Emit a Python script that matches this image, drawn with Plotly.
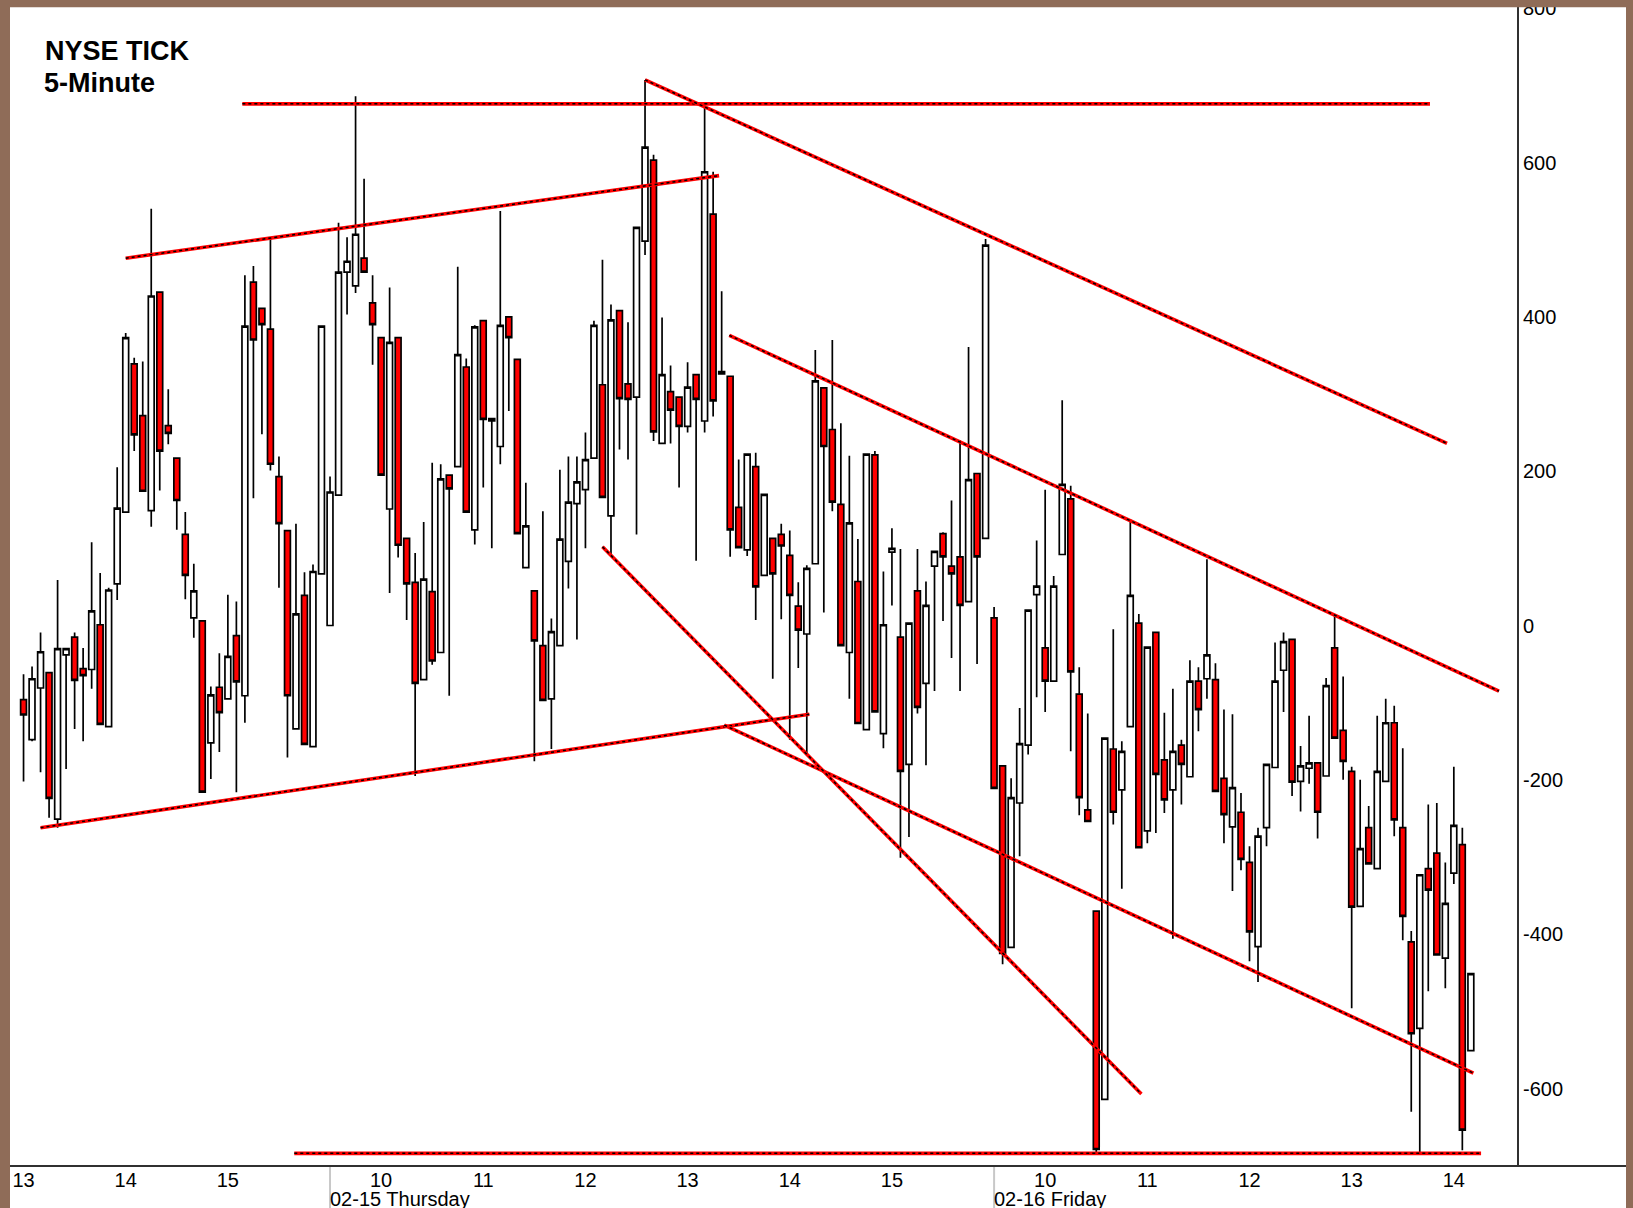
import plotly.graph_objects as go

# ---------------- data (5-minute NYSE TICK bars) ----------------
# Day 1 (02-14, 13:00-16:00), Day 2 (02-15, 9:30-16:00), Day 3 (02-16, 9:30-14:15)
d1_open  = [-96, -148, -81, -61, -251, -38, -15, -56, -57, 1, -131, 54, 147, 339, 272, 149, 432, 259,
            217, 118, 10, 6, -152, -80, -95, -13, -91, 445, 411, 384, 193, 123, -134, 39, -157, 67]
d1_high  = [-63, -53, -9, -61, 59, -30, -9, -29, 108, 68, 49, 205, 379, 347, 342, 540, 432, 306,
            217, 147, 80, 6, -79, -36, 40, 31, 454, 466, 411, 503, 219, 123, 132, 69, 79, 388]
d1_low   = [-202, -150, -190, -249, -262, -186, -134, -150, -82, -128, -131, 33, 147, 226, 174, 128, 175, 235,
            124, 34, -16, -216, -199, -164, -95, -216, -126, 165, 248, 201, 49, -171, -134, -154, -157, 67]
d1_close = [-116, -69, -34, -224, -30, -30, -71, -65, 19, -128, 46, 152, 373, 247, 174, 427, 226, 249,
            162, 65, 45, -216, -90, -113, -40, -73, 388, 370, 390, 209, 132, -91, 15, -154, 70, 388]

d2_open  = [0, 169, 458, 440, 476, 418, 373, 151, 373, 113, 56, -70, 44, -35, 195, 206, 335, 124, 395, 265,
            232, 400, 345, 75, 45, -26, -95, -26, 83, 158, 176, 217, 312, 142, 408, 313, 296, 498, 603, 236,
            303, 296, 258, 325, 265, 533, 329, 323, 153, 98, 206, 65, 113, 118, 91, 25, -11, 80, 308, 254,
            157, -35, 57, -135, 221, -140, 95, -15, -180, 45, -75, 77, 119, 77, 89, 31, 197, 113]
d2_high  = [193, 522, 503, 686, 579, 454, 373, 438, 373, 113, 94, 134, 211, 209, 195, 465, 346, 389, 395, 268,
            537, 400, 345, 185, 45, 148, 9, 202, 219, 219, 250, 395, 474, 416, 408, 393, 516, 707, 610, 399,
            337, 296, 341, 325, 674, 588, 433, 323, 215, 222, 224, 170, 113, 132, 123, 56, 78, 357, 308, 370,
            262, 220, 112, 222, 226, 70, 126, 99, 3, 99, 57, 96, 121, 162, 240, 361, 197, 501]
d2_low   = [0, 169, 403, 431, 458, 338, 195, 42, 88, 7, -195, -70, -51, -35, -91, 206, 147, 105, 179, 100,
            209, 278, 119, 75, -176, -97, -160, -26, 48, -18, 100, 217, 166, 92, 228, 215, 118, 480, 239, 236,
            236, 179, 250, 84, 250, 271, 326, 89, 101, 90, 7, 65, -69, 8, -148, -55, -167, 80, 17, 148,
            -26, -95, -127, -135, -112, -159, 26, -301, -274, -114, -181, -85, 6, -42, -85, 31, -50, 113]
d2_close = [173, 458, 472, 507, 458, 390, 195, 367, 104, 54, -75, 60, -46, 190, 177, 351, 147, 387, 267, 268,
            389, 373, 119, 129, -20, -97, -8, 112, 160, 186, 215, 389, 166, 396, 294, 293, 516, 620, 251, 325,
            279, 258, 309, 293, 588, 291, 326, 124, 101, 222, 50, 170, 67, 103, 39, -6, 74, 317, 232, 160,
            -26, 133, -127, 222, -112, 1, 100, -189, 3, -106, 26, 96, 89, 67, 26, 189, 89, 493]

d3_open  = [10, -182, -417, -230, -155, 40, -29, -72, 92, 164, -89, -239, -370, -614, -160, -213, -131, 3, -266,
            -9, -174, -213, -155, -196, -72, -69, -70, -198, -261, -242, -307, -416, -262, -184, -58, -18, -202, -185,
            -178, -195, -29, -136, -189, -364, -262, -315, -202, -126, -262, -410, -522, -315, -295, -431, -321, -284, -551]
d3_high  = [24, -181, -198, -107, 20, 110, 176, 64, 292, 181, -54, -114, -370, -146, -5, -150, 138, 15, -28,
            -9, -113, -82, -148, -45, -54, 86, -49, -109, -115, -217, -286, -262, -180, -22, -9, -18, -156, -117,
            -178, -68, 13, -66, -183, -200, -234, -117, -95, -104, -159, -396, -323, -232, -230, -307, -183, -262, -451]
d3_low   = [-211, -439, -417, -299, -167, -93, -112, -72, 92, -163, -246, -254, -683, -614, -258, -341, -131, -288, -282,
            -269, -243, -406, -232, -196, -137, -95, -215, -282, -344, -317, -435, -462, -286, -184, -112, -221, -241, -205,
            -276, -195, -146, -200, -496, -364, -309, -315, -202, -273, -408, -630, -685, -474, -427, -470, -335, -680, -551]
d3_close = [-211, -425, -223, -153, 20, 51, -72, 51, 183, -60, -223, -254, -679, -146, -242, -163, 39, -288, -28,
            -193, -226, -163, -180, -72, -109, -38, -215, -245, -210, -303, -397, -273, -180, -72, -21, -203, -182, -178,
            -242, -78, -146, -176, -365, -289, -309, -189, -126, -252, -377, -529, -323, -343, -427, -360, -259, -654, -451]

# hour tick labels (positions are bar indices)
tick_bars   = [0, 12, 24, 42, 54, 66, 78, 90, 102, 120, 132, 144, 156, 168]
tick_labels = ["13", "14", "15", "10", "11", "12", "13", "14", "15", "10", "11", "12", "13", "14"]
day_start_bars = [36, 114]
day_labels     = ["02-15 Thursday", "02-16 Friday"]
y_tick_vals    = [-600, -400, -200, 0, 200, 400, 600, 800]
y_tick_text    = ["-600", "-400", "-200", "0", "200", "400", "600", "800"]

# hand-drawn trend lines (bar index, TICK value)
trend_x0 = [25.7, 12.0, 2.0, 31.8, 73.0, 82.9, 82.3, 68.0]
trend_y0 = [676, 476, -262, -684, 707, 376, -129, 102]
trend_x1 = [165.2, 81.7, 92.3, 171.2, 167.2, 173.3, 170.3, 131.3]
trend_y1 = [676, 583, -115, -684, 236, -85, -580, -607]

# ---------------- figure ----------------
opens = d1_open + d2_open + d3_open
highs = d1_high + d2_high + d3_high
lows = d1_low + d2_low + d3_low
closes = d1_close + d2_close + d3_close
bars = list(range(len(opens)))

W, H = 1633, 1208
L, R, T, B = 10, 116, 7, 42
FONT = "Liberation Sans, Arial, sans-serif"
BROWN = "#8f6c58"

fig = go.Figure()
fig.add_trace(go.Candlestick(
    x=bars, open=opens, high=highs, low=lows, close=closes,
    increasing=dict(line=dict(color="black", width=1.7), fillcolor="white"),
    decreasing=dict(line=dict(color="black", width=1.7), fillcolor="#ff0000"),
    whiskerwidth=0, hoverinfo="skip", showlegend=False,
))

for x0, y0, x1, y1 in zip(trend_x0, trend_y0, trend_x1, trend_y1):
    fig.add_trace(go.Scatter(x=[x0, x1], y=[y0, y1], mode="lines",
                             line=dict(color="#ff0000", width=3.6), hoverinfo="skip", showlegend=False))
    fig.add_trace(go.Scatter(x=[x0, x1], y=[y0, y1], mode="lines",
                             line=dict(color="black", width=1.5, dash="dot"), hoverinfo="skip", showlegend=False))

plot_w = W - L - R
plot_h = H - T - B

def px_x(px):
    return (px - L) / plot_w

def px_y(py):
    return (H - B - py) / plot_h

shapes = []
# day separator ticks below the axis
for b in day_start_bars:
    shapes.append(dict(type="line", xref="x", yref="paper", x0=b, x1=b, y0=0, y1=px_y(H + 5),
                       line=dict(color="#c8c8c8", width=2), layer="above"))
# bottom axis line extends to the right border
shapes.append(dict(type="line", xref="paper", yref="paper", x0=0, x1=px_x(W), y0=0, y1=0,
                   line=dict(color="#303030", width=2), layer="above"))
# brown frame (top, left, right)
shapes.append(dict(type="rect", xref="paper", yref="paper", x0=px_x(-5), x1=px_x(W + 5), y0=px_y(T + 0.3), y1=px_y(-5),
                   fillcolor=BROWN, line=dict(width=0), layer="above"))
shapes.append(dict(type="rect", xref="paper", yref="paper", x0=px_x(-5), x1=px_x(10), y0=px_y(H + 5), y1=px_y(-5),
                   fillcolor=BROWN, line=dict(width=0), layer="above"))
shapes.append(dict(type="rect", xref="paper", yref="paper", x0=px_x(1626), x1=px_x(W + 5), y0=px_y(H + 5), y1=px_y(-5),
                   fillcolor=BROWN, line=dict(width=0), layer="above"))

annotations = [
    dict(text="<b>NYSE TICK</b>", xref="paper", yref="paper", x=px_x(43), y=px_y(51),
         xanchor="left", yanchor="middle", showarrow=False, font=dict(family=FONT, size=27, color="black")),
    dict(text="<b>5-Minute</b>", xref="paper", yref="paper", x=px_x(42), y=px_y(83),
         xanchor="left", yanchor="middle", showarrow=False, font=dict(family=FONT, size=27, color="black")),
]
for b, lab in zip(day_start_bars, day_labels):
    annotations.append(dict(text=lab, xref="x", yref="paper", x=b, y=px_y(1199), xanchor="left",
                            yanchor="middle", xshift=-2, showarrow=False,
                            font=dict(family=FONT, size=20, color="black")))

fig.update_layout(
    width=W, height=H,
    margin=dict(l=L, r=R, t=T, b=B, autoexpand=False),
    paper_bgcolor="white", plot_bgcolor="white",
    showlegend=False, boxgap=0.02,
    shapes=shapes, annotations=annotations,
    font=dict(family=FONT, size=20, color="black"),
    xaxis=dict(range=[-1.59, 175.42], tickvals=tick_bars, ticktext=tick_labels, showgrid=False,
               zeroline=False, showline=False, ticks="", rangeslider=dict(visible=False),
               automargin=False, tickfont=dict(family=FONT, size=20, color="black")),
    yaxis=dict(range=[-700.4, 801.5], side="right", tickvals=y_tick_vals, ticktext=y_tick_text,
               showgrid=False, zeroline=False, ticklabeloverflow="allow", automargin=False,
               showline=True, linecolor="#303030", linewidth=2, ticks="",
               tickfont=dict(family=FONT, size=20, color="black")),
)

fig.write_html("out.html", config={"displayModeBar": False},
               post_script="document.body.style.margin='0px';document.body.style.padding='0px';")
